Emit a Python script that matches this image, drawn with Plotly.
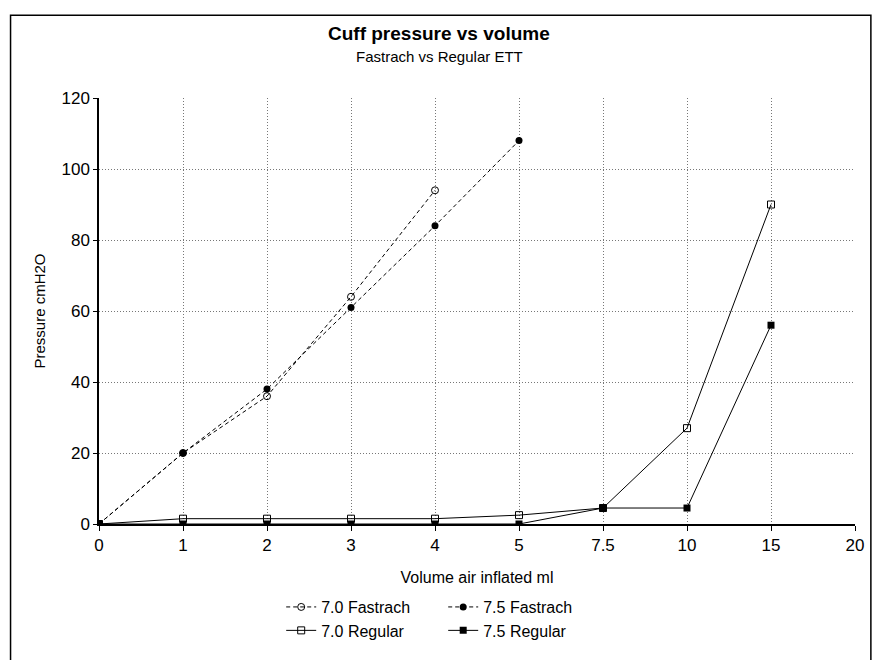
import plotly.graph_objects as go

volume_labels = ["0", "1", "2", "3", "4", "5", "7.5", "10", "15", "20"]

fastrach_70_x = ["0", "1", "2", "3", "4"]
fastrach_70_y = [0, 20, 36, 64, 94]

fastrach_75_x = ["0", "1", "2", "3", "4", "5"]
fastrach_75_y = [0, 20, 38, 61, 84, 108]

regular_70_x = ["0", "1", "2", "3", "4", "5", "7.5", "10", "15"]
regular_70_y = [0, 1.5, 1.5, 1.5, 1.5, 2.5, 4.5, 27, 90]

regular_75_x = ["0", "1", "2", "3", "4", "5", "7.5", "10", "15"]
regular_75_y = [0, 0, 0, 0, 0, 0, 4.5, 4.5, 56]

y_ticks = [0, 20, 40, 60, 80, 100, 120]

FONT = "Arial, Liberation Sans, sans-serif"

fig = go.Figure()

fig.add_trace(go.Scatter(
    x=fastrach_70_x, y=fastrach_70_y, name="7.0 Fastrach", mode="lines+markers",
    line=dict(color="black", width=1, dash="4px,3px"),
    marker=dict(symbol="circle-open", size=7, color="black", line=dict(width=1)),
    legend="legend"))
fig.add_trace(go.Scatter(
    x=fastrach_75_x, y=fastrach_75_y, name="7.5 Fastrach", mode="lines+markers",
    line=dict(color="black", width=1, dash="4px,3px"),
    marker=dict(symbol="circle", size=7, color="black"),
    legend="legend"))
fig.add_trace(go.Scatter(
    x=regular_70_x, y=regular_70_y, name="7.0 Regular", mode="lines+markers",
    line=dict(color="black", width=1),
    marker=dict(symbol="square-open", size=7, color="black", line=dict(width=1)),
    legend="legend2"))
fig.add_trace(go.Scatter(
    x=regular_75_x, y=regular_75_y, name="7.5 Regular", mode="lines+markers",
    line=dict(color="black", width=1),
    marker=dict(symbol="square", size=7, color="black"),
    legend="legend2"))

fig.update_layout(
    width=876, height=660,
    margin=dict(l=99, r=19, t=98, b=128),
    paper_bgcolor="white", plot_bgcolor="white",
    font=dict(family=FONT, color="black", size=15),
    showlegend=True,
    annotations=[
        dict(text="<b>Cuff pressure vs volume</b>", xref="paper", yref="paper",
             x=0.45, y=1.152, xanchor="center", yanchor="middle", showarrow=False,
             font=dict(size=19, family=FONT)),
        dict(text="Fastrach vs Regular ETT", xref="paper", yref="paper",
             x=0.45, y=1.097, xanchor="center", yanchor="middle", showarrow=False,
             font=dict(size=15, family=FONT)),
    ],
    legend=dict(orientation="h", x=0.241, y=-0.155, xanchor="left", yanchor="top",
                entrywidth=117, entrywidthmode="pixels", font=dict(size=16),
                bgcolor="rgba(0,0,0,0)", itemwidth=30, tracegroupgap=0),
    legend2=dict(orientation="h", x=0.241, y=-0.21, xanchor="left", yanchor="top",
                 entrywidth=117, entrywidthmode="pixels", font=dict(size=16),
                 bgcolor="rgba(0,0,0,0)", itemwidth=30, tracegroupgap=0),
    shapes=[
        dict(type="rect", xref="paper", yref="paper", x0=-0.117, x1=1.021,
             y0=-0.35, y1=1.194, line=dict(color="black", width=1.5),
             fillcolor="rgba(0,0,0,0)", layer="below"),
    ],
)

fig.update_xaxes(
    type="category", categoryorder="array", categoryarray=volume_labels,
    tickvals=volume_labels, ticktext=volume_labels,
    range=[0, 9], showline=True, linecolor="black", linewidth=1.5,
    ticks="outside", ticklen=5, tickcolor="black",
    showgrid=True, gridcolor="#777777", griddash="1px,2px", gridwidth=1,
    zeroline=False, tickfont=dict(size=17),
    title=dict(text="Volume air inflated ml", font=dict(size=16), standoff=18),
)
fig.update_yaxes(
    range=[0, 120], tickvals=y_ticks, showline=True, linecolor="black", linewidth=1.5,
    ticks="outside", ticklen=4, tickcolor="black",
    showgrid=True, gridcolor="#777777", griddash="1px,2px", gridwidth=1,
    zeroline=False, tickfont=dict(size=17),
    title=dict(text="Pressure cmH2O", font=dict(size=15), standoff=12),
)

fig.write_html(
    "out.html",
    config={"displayModeBar": False},
    post_script=("document.documentElement.style.margin='0';"
                 "document.documentElement.style.overflow='hidden';"
                 "document.body.style.margin='0';"
                 "document.body.style.overflow='hidden';"
                 "document.body.style.height='660px';"),
)
